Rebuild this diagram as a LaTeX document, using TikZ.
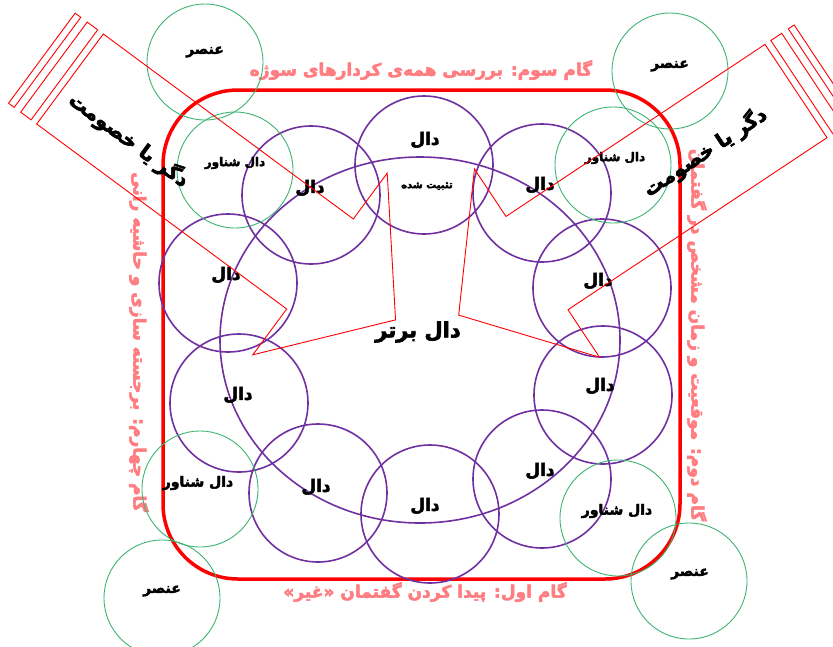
\documentclass[tikz,border=0pt]{standalone}
\usepackage{fontspec}
\newfontfamily\fa[Script=Arabic, BoldFeatures={FakeBold=3}]{DejaVu Sans}
\TeXXeTstate=1
\newcommand{\fatxt}[1]{\beginR#1\endR}
\definecolor{dalpurple}{HTML}{7030A0}
\definecolor{floatgreen}{HTML}{3CB371}
\definecolor{stepred}{HTML}{FF7C80}

\begin{document}
\begin{tikzpicture}[x=1pt, y=-1pt,
    every node/.style={font=\fa\bfseries, align=center, inner sep=0pt},
    dal/.style={circle, draw=dalpurple, line width=1.6pt, minimum size=138pt},
    floatc/.style={circle, draw=floatgreen, line width=0.9pt, minimum size=116pt},
    dallbl/.style={font=\fa\bfseries\fontsize{17}{20}\selectfont},
    floatlbl/.style={font=\fa\bfseries\fontsize{12}{14}\selectfont},
    unsurlbl/.style={font=\fa\bfseries\fontsize{14}{16}\selectfont},
    steplbl/.style={text=stepred, font=\fa\bfseries\fontsize{17}{20}\selectfont},
    otherlbl/.style={font=\fa\bfseries\fontsize{20}{22}\selectfont},
    arrline/.style={draw=red, line width=0.9pt}
]
\useasboundingbox (0,0) rectangle (833,646);

% frame of the four steps
\draw[red, line width=3.5pt, rounded corners=75pt] (163,90) rectangle (680,579);
\node[steplbl] (s3) at (421,70)  {\fatxt{گام سوم: بررسی همه‌ی کردارهای سوژه}};
\node[steplbl] (s1) at (425,592) {\fatxt{گام اول: پیدا کردن گفتمان «غیر»}};
\node[steplbl, rotate=-90] (s4) at (139,342) {\fatxt{گام چهارم: برجسته سازی و حاشیه رانی}};
\node[steplbl, rotate=-90] (s2) at (697,335) {\fatxt{گام دوم: موقعیت و زمان مشخص در گفتمان}};

% master signifier
\draw[dalpurple, line width=1.6pt] (420,340) ellipse [x radius=200pt, y radius=183pt];
\node[font=\fa\bfseries\fontsize{21}{24}\selectfont] (bartar) at (418,332) {\fatxt{دال برتر}};

% signifiers
\node[dal] (d1)  at (424,165) {};
\node[dal] (d2)  at (542,193) {};
\node[dal] (d3)  at (602,288) {};
\node[dal] (d4)  at (603,395) {};
\node[dal] (d5)  at (542,479) {};
\node[dal] (d6)  at (430,514) {};
\node[dal] (d7)  at (318,493) {};
\node[dal] (d8)  at (239,403) {};
\node[dal] (d9)  at (228,283) {};
\node[dal] (d10) at (311,195) {};
\node[dallbl] (t1)  at (425,140) {\fatxt{دال}};
\node[font=\fa\bfseries\fontsize{10}{12}\selectfont] (fixed) at (427,186) {\fatxt{تثبیت شده}};
\node[dallbl] (t2)  at (540,185) {\fatxt{دال}};
\node[dallbl] (t3)  at (598,281) {\fatxt{دال}};
\node[dallbl] (t4)  at (600,386) {\fatxt{دال}};
\node[dallbl] (t5)  at (540,471) {\fatxt{دال}};
\node[dallbl] (t6)  at (425,506) {\fatxt{دال}};
\node[dallbl] (t7)  at (316,487) {\fatxt{دال}};
\node[dallbl] (t8)  at (238,395) {\fatxt{دال}};
\node[dallbl] (t9)  at (226,275) {\fatxt{دال}};
\node[dallbl] (t10) at (310,188) {\fatxt{دال}};

% floating signifiers and elements
\node[floatc] (f1) at (235,170) {};
\node[floatc] (f2) at (613,165) {};
\node[floatc] (f3) at (200,489) {};
\node[floatc] (f4) at (618,518) {};
\node[floatc] (e1) at (205,62)  {};
\node[floatc] (e2) at (670,71)  {};
\node[floatc] (e3) at (162,598) {};
\node[floatc] (e4) at (689,581) {};
\node[floatlbl] (ft1) at (235,163) {\fatxt{دال شناور}};
\node[floatlbl] (ft2) at (615,158) {\fatxt{دال شناور}};
\node[floatlbl, font=\fa\bfseries\fontsize{14}{16}\selectfont] (ft3) at (198,483) {\fatxt{دال شناور}};
\node[floatlbl, font=\fa\bfseries\fontsize{14}{16}\selectfont] (ft4) at (617,511) {\fatxt{دال شناور}};
\node[unsurlbl] (et1) at (205,52)  {\fatxt{عنصر}};
\node[unsurlbl] (et2) at (670,66)  {\fatxt{عنصر}};
\node[unsurlbl] (et3) at (162,591) {\fatxt{عنصر}};
\node[unsurlbl] (et4) at (690,574) {\fatxt{عنصر}};

% the other (antagonism) arrows
\begin{scope}[shift={(70,79)}, rotate=-36.5]
  \draw[arrline] (0,-56) -- (311,-56) -- (311,-113) -- (405,0) -- (311,113) -- (311,56) -- (0,56) -- cycle;
  \draw[arrline] (-7,-56) rectangle (-20,56);
  \draw[arrline] (-28,-56) rectangle (-35,56);
\end{scope}
\begin{scope}[shift={(796,91)}, rotate=213.6]
  \draw[arrline] (0,-56) -- (311,-56) -- (311,-113) -- (405,0) -- (311,113) -- (311,56) -- (0,56) -- cycle;
  \draw[arrline] (-7,-56) rectangle (-20,56);
  \draw[arrline] (-28,-56) rectangle (-35,56);
\end{scope}
\node[otherlbl, rotate=-36.5] (o1) at (129,140) {\fatxt{دگر یا خصومت}};
\node[otherlbl, rotate=33.6]  (o2) at (705,152) {\fatxt{دگر یا خصومت}};
\end{tikzpicture}
\end{document}
